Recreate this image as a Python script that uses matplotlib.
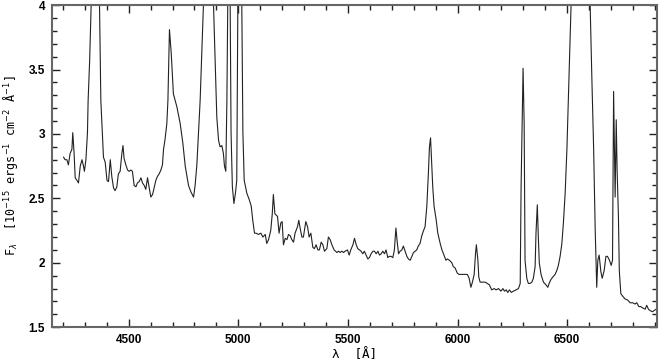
import matplotlib
matplotlib.use("Agg")
import matplotlib.pyplot as plt
from matplotlib.ticker import MultipleLocator, FuncFormatter

# spectrum (wavelength in Angstrom, flux in 1e-15 units)
wave = [4203, 4210, 4218, 4225, 4233, 4241, 4245, 4251, 4256, 4264, 4271, 4279, 4287, 4294, 4298,
        4305, 4312, 4315, 4322, 4329, 4347, 4367, 4373, 4385, 4393, 4401, 4408, 4416, 4423, 4431,
        4438, 4446, 4453, 4461, 4469, 4474, 4479, 4487, 4495, 4502, 4510, 4517, 4525, 4533, 4540,
        4548, 4556, 4563, 4571, 4578, 4586, 4593, 4601, 4609, 4616, 4624, 4631, 4639, 4647, 4654,
        4659, 4666, 4674, 4679, 4686, 4694, 4704, 4720, 4735, 4747, 4758, 4773, 4784, 4796, 4803,
        4811, 4818, 4826, 4834, 4841, 4862, 4887, 4895, 4902, 4910, 4917, 4925, 4932, 4937, 4943,
        4948, 4952, 4958, 4963, 4967, 4973, 4980, 4987, 4993, 4998, 5006, 5016, 5021, 5027, 5039,
        5050, 5059, 5066, 5074, 5081, 5092, 5103, 5112, 5123, 5130, 5138, 5148, 5155, 5160, 5167,
        5173, 5179, 5186, 5194, 5200, 5206, 5214, 5222, 5229, 5237, 5244, 5252, 5259, 5270, 5276,
        5282, 5290, 5297, 5308, 5316, 5323, 5331, 5340, 5347, 5355, 5363, 5370, 5378, 5386, 5393,
        5404, 5411, 5419, 5427, 5437, 5450, 5457, 5465, 5472, 5480, 5487, 5498, 5506, 5513, 5523,
        5530, 5538, 5545, 5553, 5560, 5568, 5575, 5583, 5591, 5598, 5606, 5614, 5621, 5629, 5637,
        5644, 5652, 5659, 5667, 5674, 5682, 5689, 5697, 5705, 5712, 5719, 5725, 5731, 5738, 5746,
        5753, 5761, 5769, 5776, 5784, 5792, 5799, 5807, 5814, 5821, 5829, 5837, 5845, 5852, 5860,
        5867, 5872, 5877, 5881, 5887, 5893, 5903, 5910, 5921, 5929, 5936, 5947, 5954, 5963, 5974,
        5981, 5989, 5999, 6007, 6020, 6035, 6045, 6053, 6061, 6068, 6076, 6082, 6086, 6093, 6097,
        6103, 6115, 6126, 6136, 6145, 6156, 6167, 6176, 6187, 6198, 6207, 6214, 6222, 6229, 6237,
        6245, 6255, 6267, 6278, 6286, 6290, 6295, 6299, 6304, 6306, 6308, 6316, 6323, 6331, 6339,
        6346, 6354, 6358, 6364, 6368, 6373, 6381, 6392, 6403, 6412, 6418, 6426, 6435, 6445, 6453,
        6460, 6468, 6476, 6483, 6491, 6499, 6507, 6518, 6565, 6605, 6613, 6621, 6628, 6635, 6640,
        6646, 6654, 6660, 6669, 6677, 6684, 6693, 6701, 6707, 6712, 6719, 6724, 6728, 6734, 6738,
        6745, 6754, 6764, 6777, 6787, 6799, 6810, 6818, 6827, 6836, 6845, 6856, 6863, 6871, 6878,
        6889, 6897, 6906]

flux = [2.82, 2.80, 2.80, 2.76, 2.85, 2.88, 3.01, 2.85, 2.66, 2.64, 2.62, 2.75, 2.80, 2.75, 2.71,
        2.80, 3.01, 3.26, 3.57, 4.00, 5.50, 4.00, 3.26, 2.82, 2.78, 2.64, 2.63, 2.80, 2.67, 2.58,
        2.56, 2.59, 2.69, 2.71, 2.85, 2.91, 2.81, 2.76, 2.72, 2.71, 2.72, 2.71, 2.60, 2.59, 2.62,
        2.63, 2.66, 2.62, 2.60, 2.57, 2.66, 2.59, 2.51, 2.53, 2.58, 2.64, 2.67, 2.69, 2.72, 2.76,
        2.88, 2.96, 3.08, 3.26, 3.81, 3.63, 3.31, 3.21, 3.08, 2.93, 2.75, 2.60, 2.55, 2.51, 2.60,
        2.76, 3.00, 3.26, 3.65, 4.00, 6.00, 4.00, 3.52, 3.13, 2.95, 2.90, 2.91, 2.85, 2.75, 2.71,
        3.26, 4.00, 6.00, 4.00, 3.01, 2.59, 2.46, 2.54, 2.64, 4.00, 7.00, 4.00, 3.01, 2.64, 2.54,
        2.49, 2.44, 2.33, 2.23, 2.23, 2.22, 2.23, 2.20, 2.22, 2.15, 2.18, 2.25, 2.38, 2.53, 2.38,
        2.37, 2.36, 2.23, 2.31, 2.32, 2.14, 2.19, 2.18, 2.22, 2.21, 2.18, 2.16, 2.23, 2.28, 2.33,
        2.27, 2.20, 2.20, 2.32, 2.28, 2.20, 2.23, 2.12, 2.11, 2.14, 2.10, 2.10, 2.16, 2.14, 2.09,
        2.11, 2.20, 2.18, 2.14, 2.10, 2.08, 2.09, 2.08, 2.09, 2.08, 2.09, 2.10, 2.06, 2.10, 2.14,
        2.19, 2.14, 2.11, 2.10, 2.09, 2.07, 2.09, 2.06, 2.03, 2.04, 2.07, 2.09, 2.09, 2.07, 2.09,
        2.06, 2.07, 2.09, 2.07, 2.10, 2.04, 2.05, 2.05, 2.04, 2.10, 2.27, 2.16, 2.07, 2.09, 2.10,
        2.13, 2.09, 2.05, 2.03, 2.02, 2.05, 2.08, 2.09, 2.10, 2.13, 2.15, 2.21, 2.25, 2.28, 2.44,
        2.69, 2.90, 2.97, 2.82, 2.59, 2.44, 2.33, 2.23, 2.15, 2.10, 2.07, 2.02, 2.03, 2.02, 2.00,
        1.97, 1.96, 1.92, 1.91, 1.91, 1.91, 1.91, 1.88, 1.81, 1.85, 1.91, 2.07, 2.14, 2.02, 1.89,
        1.85, 1.85, 1.85, 1.84, 1.83, 1.79, 1.80, 1.79, 1.80, 1.78, 1.80, 1.78, 1.79, 1.77, 1.79,
        1.77, 1.78, 1.79, 1.80, 1.84, 2.59, 3.11, 3.51, 3.08, 2.49, 2.02, 1.88, 1.84, 1.84, 1.85,
        1.88, 1.97, 2.23, 2.45, 2.23, 2.00, 1.91, 1.85, 1.83, 1.81, 1.84, 1.87, 1.89, 1.91, 1.94,
        1.98, 2.05, 2.15, 2.31, 2.54, 2.88, 3.34, 4.00, 9.00, 4.00, 3.42, 2.88, 2.26, 1.81, 2.02,
        2.06, 1.93, 1.88, 1.94, 2.05, 2.05, 2.02, 1.98, 2.02, 3.33, 2.51, 3.11, 2.72, 2.36, 1.94,
        1.76, 1.74, 1.72, 1.71, 1.69, 1.69, 1.68, 1.69, 1.66, 1.66, 1.65, 1.64, 1.67, 1.64, 1.63,
        1.62, 1.63, 1.64]

fig = plt.figure(figsize=(6.66, 3.64), dpi=100)
ax = fig.add_axes([0.078, 0.101, 0.9085, 0.885])

ax.plot(wave, flux, color="#222222", linewidth=0.8)

ax.set_xlim(4150, 6910)
ax.set_ylim(1.5, 4)
ax.xaxis.set_major_locator(MultipleLocator(500))
ax.xaxis.set_minor_locator(MultipleLocator(100))
ax.yaxis.set_major_locator(MultipleLocator(0.5))
ax.yaxis.set_minor_locator(MultipleLocator(0.1))
ax.yaxis.set_major_formatter(FuncFormatter(lambda v, p: "%g" % v))

ax.tick_params(which="both", direction="in", top=True, right=True, color="#222222")
ax.tick_params(which="major", length=6, width=1, labelsize=8.5, pad=5)
ax.tick_params(which="minor", length=3.5, width=1)
for lab in ax.get_xticklabels() + ax.get_yticklabels():
    lab.set_fontweight("bold")
    lab.set_family("Liberation Sans")

for s in ax.spines.values():
    s.set_color("#666666")
    s.set_linewidth(1.5)

ax.set_xlabel("λ  [Å]", fontsize=9, family="DejaVu Sans Mono", labelpad=1)
ax.set_ylabel("F$_\\lambda$  [10$^{-15}$ ergs$^{-1}$ cm$^{-2}$ Å$^{-1}$]", fontsize=8.5,
              family="DejaVu Sans Mono", labelpad=6)

plt.savefig("out.png", dpi=100)
